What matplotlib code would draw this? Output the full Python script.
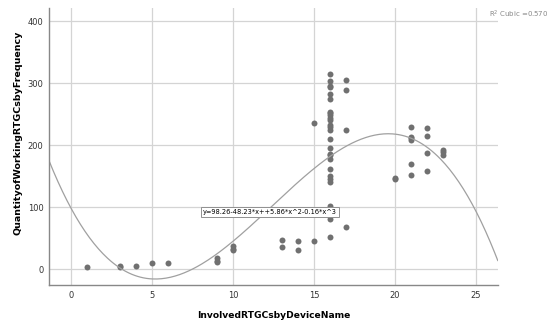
import numpy as np
import matplotlib
matplotlib.use("Agg")
import matplotlib.pyplot as plt

# values
x_devices = [1, 3, 3, 4, 5, 6, 9, 9, 9, 10, 10, 10, 13, 13, 14, 14, 15, 15,
             16, 16, 16, 16, 16, 16, 16, 16, 16, 16, 16, 16, 16, 16, 16, 16,
             16, 16, 16, 16, 16, 16, 16, 16, 16, 16, 16,
             17, 17, 17, 17, 20, 20,
             21, 21, 21, 21, 21, 21, 22, 22, 22, 22, 23, 23, 23]
y_freq = [3, 5, 3, 5, 10, 10, 17, 13, 11, 37, 33, 31, 46, 36, 45, 31, 45, 235,
          314, 304, 296, 293, 283, 275, 254, 251, 248, 244, 240, 233, 229, 225,
          210, 195, 186, 184, 177, 162, 150, 146, 141, 102, 95, 80, 52,
          305, 289, 224, 67, 147, 145,
          229, 213, 211, 208, 170, 151, 227, 214, 187, 158, 192, 188, 184]

# cubic fit coefficients (constant, x, x^2, x^3), as the curve is drawn
fit_coef = [98.26, -48.23, 5.864, -0.1577]

equation_text = "y=98.26-48.23*x++5.86*x^2-0.16*x^3"
r2_text = "R$^2$ Cubic =0.570"
x_ticks = [0, 5, 10, 15, 20, 25]
y_ticks = [0, 100, 200, 300, 400]

fig = plt.figure(figsize=(5.5, 3.24), dpi=100)
ax = fig.add_axes([0.089, 0.12, 0.816, 0.855])

ax.set_xlim(-1.36, 26.35)
ax.set_ylim(-26, 421)
ax.set_xticks(x_ticks)
ax.set_yticks(y_ticks)
ax.grid(True, color="#d4d4d4", lw=0.9)
ax.set_axisbelow(True)
ax.tick_params(length=0, labelsize=6, colors="#333333", pad=4)

for s in ["top", "right"]:
    ax.spines[s].set_visible(False)
for s in ["left", "bottom"]:
    ax.spines[s].set_color("#888888")
    ax.spines[s].set_linewidth(1.0)

ax.plot(x_devices, y_freq, "o", color="#707070", markersize=4.3, mec="none")

# fit line
xs = np.linspace(-1.36, 26.35, 300)
ax.plot(xs, np.polynomial.polynomial.polyval(xs, fit_coef), color="#a0a0a0", lw=0.9)

ax.text(12.27, 92, equation_text, fontsize=4.8, ha="center", va="center",
        bbox=dict(boxstyle="square,pad=0.3", fc="white", ec="#909090", lw=0.7))

fig.text(0.997, 0.955, r2_text, fontsize=5, color="#888888", ha="right", va="center")

ax.set_xlabel("InvolvedRTGCsbyDeviceName", fontsize=6.6, fontweight="bold", labelpad=8)
ax.set_ylabel("QuantityofWorkingRTGCsbyFrequency", fontsize=6.8, fontweight="bold", labelpad=3)
ax.yaxis.set_label_coords(-0.058, 0.55)

fig.savefig("out.png", dpi=100)
